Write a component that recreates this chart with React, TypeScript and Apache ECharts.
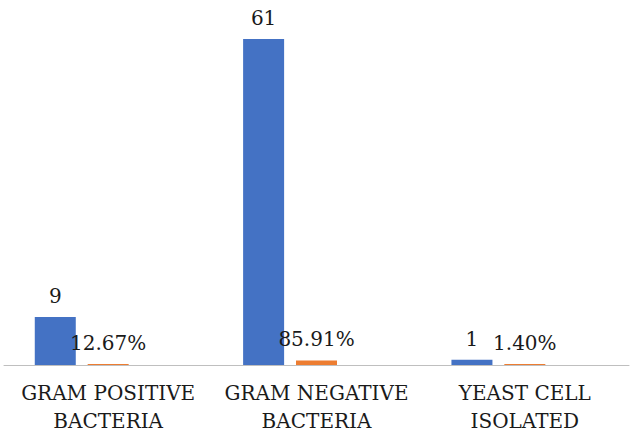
import React, { useEffect, useRef } from "react";
import * as echarts from "echarts";

const categories = ["GRAM POSITIVE\nBACTERIA", "GRAM NEGATIVE\nBACTERIA", "YEAST CELL\nISOLATED"];
const counts = [9, 61, 1];
const percents = [12.67, 85.91, 1.4];

export default function App() {
  const ref = useRef<HTMLDivElement>(null);
  useEffect(() => {
    if (!ref.current) return;
    const chart = echarts.init(ref.current, undefined, { renderer: "svg" });
    const font = "DejaVu Serif";
    chart.setOption({
      animation: false,
      textStyle: { fontFamily: font },
      grid: { left: 4, right: 4, top: 39, bottom: 67, containLabel: false },
      xAxis: {
        type: "category",
        data: categories,
        axisLine: { show: true, lineStyle: { color: "#bfbfbf", width: 1 } },
        axisTick: { show: false },
        axisLabel: {
          color: "#1a1a1a",
          fontFamily: font,
          fontSize: 20,
          lineHeight: 28,
          margin: 14,
          interval: 0,
        },
      },
      yAxis: {
        type: "value",
        min: 0,
        max: 61,
        show: false,
        splitLine: { show: false },
      },
      series: [
        {
          type: "bar",
          data: counts,
          barWidth: 41,
          barGap: "29%",
          itemStyle: { color: "#4472C4" },
          label: {
            show: true,
            position: "top",
            distance: 11,
            color: "#1a1a1a",
            fontFamily: font,
            fontSize: 20,
          },
        },
        {
          type: "bar",
          data: percents.map((p) => p / 100),
          barWidth: 41,
          barGap: "29%",
          barMinHeight: 1,
          itemStyle: { color: "#ED7D31" },
          label: {
            show: true,
            position: "top",
            distance: 11,
            color: "#1a1a1a",
            fontFamily: font,
            fontSize: 20,
            formatter: (p: any) => percents[p.dataIndex].toFixed(2) + "%",
          },
        },
        {
          type: "bar",
          data: [null, null, null],
          barWidth: 41,
          barGap: "29%",
        },
      ],
    });
    return () => chart.dispose();
  }, []);
  return <div ref={ref} style={{ width: 633, height: 435, position: "absolute", left: 0, top: 0 }} />;
}
